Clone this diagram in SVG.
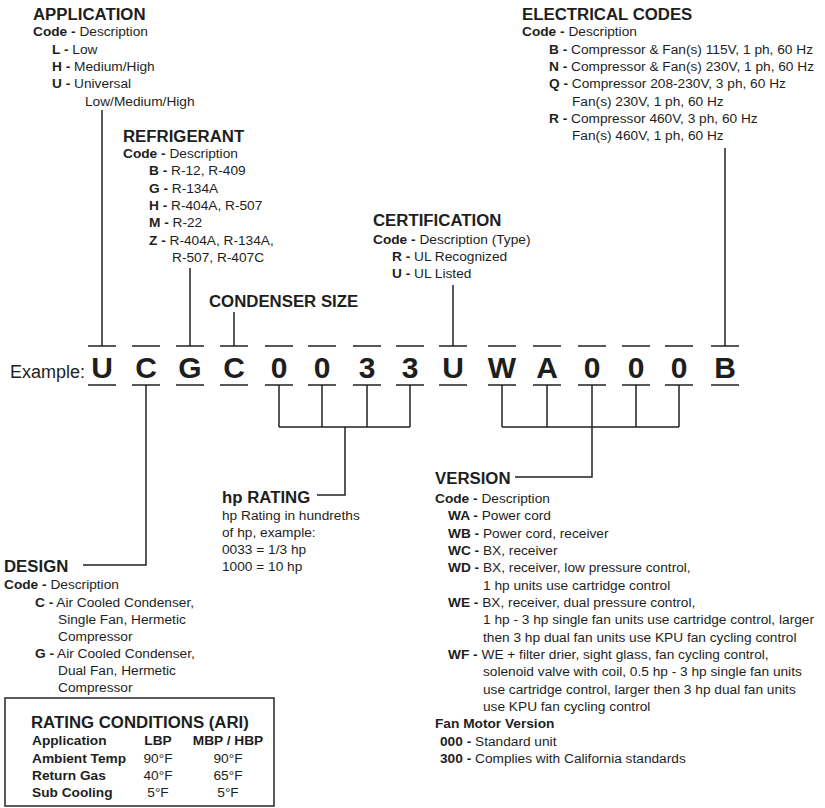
<svg xmlns="http://www.w3.org/2000/svg" width="825" height="808" viewBox="0 0 825 808">
<style>
text{font-family:"Liberation Sans",Arial,Helvetica,sans-serif;fill:#1e1e1e}
.t{font-size:16.8px;font-weight:bold}
.b{font-size:13.7px}
.k{font-weight:bold}
.L{font-size:30px;font-weight:bold;text-anchor:middle}
.ln{stroke:#222;stroke-width:1.5;fill:none}
.m{text-anchor:middle}
</style>
<rect width="825" height="808" fill="#fff"/>

<g id="application">
<text class="t" x="33" y="20">APPLICATION</text>
<text class="b" x="33" y="36"><tspan class="k">Code -</tspan> Description</text>
<text class="b" x="52" y="53.5"><tspan class="k">L -</tspan> Low</text>
<text class="b" x="52" y="71"><tspan class="k">H -</tspan> Medium/High</text>
<text class="b" x="52" y="88"><tspan class="k">U -</tspan> Universal</text>
<text class="b" x="85" y="105.5">Low/Medium/High</text>
</g>

<g id="refrigerant">
<text class="t" x="123" y="142">REFRIGERANT</text>
<text class="b" x="123" y="158"><tspan class="k">Code -</tspan> Description</text>
<text class="b" x="149" y="175"><tspan class="k">B -</tspan> R-12, R-409</text>
<text class="b" x="149" y="192.5"><tspan class="k">G -</tspan> R-134A</text>
<text class="b" x="149" y="210"><tspan class="k">H -</tspan> R-404A, R-507</text>
<text class="b" x="149" y="227"><tspan class="k">M -</tspan> R-22</text>
<text class="b" x="149" y="244.5"><tspan class="k">Z -</tspan> R-404A, R-134A,</text>
<text class="b" x="172" y="262">R-507, R-407C</text>
</g>

<g id="electrical-codes">
<text class="t" x="522" y="20">ELECTRICAL CODES</text>
<text class="b" x="522" y="36"><tspan class="k">Code -</tspan> Description</text>
<text class="b" x="549" y="53.5"><tspan class="k">B -</tspan> Compressor &amp; Fan(s) 115V, 1 ph, 60 Hz</text>
<text class="b" x="549" y="71"><tspan class="k">N -</tspan> Compressor &amp; Fan(s) 230V, 1 ph, 60 Hz</text>
<text class="b" x="549" y="88"><tspan class="k">Q -</tspan> Compressor 208-230V, 3 ph, 60 Hz</text>
<text class="b" x="572" y="105.5">Fan(s) 230V, 1 ph, 60 Hz</text>
<text class="b" x="549" y="123"><tspan class="k">R -</tspan> Compressor 460V, 3 ph, 60 Hz</text>
<text class="b" x="572" y="140">Fan(s) 460V, 1 ph, 60 Hz</text>
</g>

<g id="certification">
<text class="t" x="373" y="226">CERTIFICATION</text>
<text class="b" x="373" y="244"><tspan class="k">Code -</tspan> Description (Type)</text>
<text class="b" x="392" y="261"><tspan class="k">R -</tspan> UL Recognized</text>
<text class="b" x="392" y="278"><tspan class="k">U -</tspan> UL Listed</text>
</g>

<g id="condenser-size">
<text class="t" x="209" y="307">CONDENSER SIZE</text>
</g>

<g id="example">
<text x="10" y="378" style="font-size:18px">Example:</text>
<text class="L" x="102" y="378">U</text>
<text class="L" x="146" y="378">C</text>
<text class="L" x="190" y="378">G</text>
<text class="L" x="234" y="378">C</text>
<text class="L" x="279" y="378">0</text>
<text class="L" x="322" y="378">0</text>
<text class="L" x="367" y="378">3</text>
<text class="L" x="410" y="378">3</text>
<text class="L" x="453" y="378">U</text>
<text class="L" x="502" y="378">W</text>
<text class="L" x="547" y="378">A</text>
<text class="L" x="592" y="378">0</text>
<text class="L" x="636" y="378">0</text>
<text class="L" x="679" y="378">0</text>
<text class="L" x="725" y="378">B</text>
</g>

<g id="hp-rating">
<text class="t" x="222" y="503">hp RATING</text>
<text class="b" x="222" y="520">hp Rating in hundreths</text>
<text class="b" x="222" y="537">of hp, example:</text>
<text class="b" x="222" y="554">0033 = 1/3 hp</text>
<text class="b" x="222" y="571">1000 = 10 hp</text>
</g>

<g id="version">
<text class="t" x="435" y="484">VERSION</text>
<text class="b" x="435" y="503"><tspan class="k">Code -</tspan> Description</text>
<text class="b" x="448" y="520"><tspan class="k">WA -</tspan> Power cord</text>
<text class="b" x="448" y="537.5"><tspan class="k">WB -</tspan> Power cord, receiver</text>
<text class="b" x="448" y="555"><tspan class="k">WC -</tspan> BX, receiver</text>
<text class="b" x="448" y="572"><tspan class="k">WD -</tspan> BX, receiver, low pressure control,</text>
<text class="b" x="483" y="589.5">1 hp units use cartridge control</text>
<text class="b" x="448" y="607"><tspan class="k">WE -</tspan> BX, receiver, dual pressure control,</text>
<text class="b" x="483" y="624">1 hp - 3 hp single fan units use cartridge control, larger</text>
<text class="b" x="483" y="641.5">then 3 hp dual fan units use KPU fan cycling control</text>
<text class="b" x="448" y="659"><tspan class="k">WF -</tspan> WE + filter drier, sight glass, fan cycling control,</text>
<text class="b" x="483" y="676">solenoid valve with coil, 0.5 hp - 3 hp single fan units</text>
<text class="b" x="483" y="693.5">use cartridge control, larger then 3 hp dual fan units</text>
<text class="b" x="483" y="711">use KPU fan cycling control</text>
<text class="b k" x="435" y="728">Fan Motor Version</text>
<text class="b" x="440" y="745.5"><tspan class="k">000 -</tspan> Standard unit</text>
<text class="b" x="440" y="763"><tspan class="k">300 -</tspan> Complies with California standards</text>
</g>

<g id="design">
<text class="t" x="4" y="572">DESIGN</text>
<text class="b" x="4" y="589"><tspan class="k">Code -</tspan> Description</text>
<text class="b" x="35" y="606.5"><tspan class="k">C -</tspan> Air Cooled Condenser,</text>
<text class="b" x="58" y="623.5">Single Fan, Hermetic</text>
<text class="b" x="58" y="641">Compressor</text>
<text class="b" x="35" y="658"><tspan class="k">G -</tspan> Air Cooled Condenser,</text>
<text class="b" x="58" y="675">Dual Fan, Hermetic</text>
<text class="b" x="58" y="692">Compressor</text>
</g>

<g id="rating-conditions">
<rect x="5" y="698" width="269" height="108" fill="none" stroke="#333" stroke-width="1.6"/>
<text class="t" x="31" y="728">RATING CONDITIONS (ARI)</text>
<text class="b k" x="32" y="745">Application</text>
<text class="b k m" x="158" y="745">LBP</text>
<text class="b k m" x="228" y="745">MBP / HBP</text>
<text class="b k" x="32" y="763">Ambient Temp</text>
<text class="b m" x="158" y="763">90°F</text>
<text class="b m" x="228" y="763">90°F</text>
<text class="b k" x="32" y="780">Return Gas</text>
<text class="b m" x="158" y="780">40°F</text>
<text class="b m" x="228" y="780">65°F</text>
<text class="b k" x="32" y="797">Sub Cooling</text>
<text class="b m" x="158" y="797">5°F</text>
<text class="b m" x="228" y="797">5°F</text>
</g>

<g id="connectors" class="ln">
<path class="ln" d="M88 346H116M132 346H160M176 346H204M220 346H248M265 346H293M308 346H336M353 346H381M396 346H424M439 346H467M488 346H516M533 346H561M578 346H606M622 346H650M665 346H693M711 346H739"/>
<path class="ln" d="M88 385H116M132 385H160M176 385H204M220 385H248M265 385H293M308 385H336M353 385H381M396 385H424M439 385H467M488 385H516M533 385H561M578 385H606M622 385H650M665 385H693M711 385H739"/>
<path class="ln" d="M102 110V346"/>
<path class="ln" d="M190 268V346"/>
<path class="ln" d="M234 312V346"/>
<path class="ln" d="M453 285V346"/>
<path class="ln" d="M725 148V346"/>
<path class="ln" d="M279 385V427M322 385V427M367 385V427M410 385V427M279 427H410M345 427V495H317"/>
<path class="ln" d="M502 385V427M547 385V427M592 385V427M636 385V427M679 385V427M502 427H679M592 427V477H515"/>
<path class="ln" d="M146 385V565H83"/>
</g>
</svg>
